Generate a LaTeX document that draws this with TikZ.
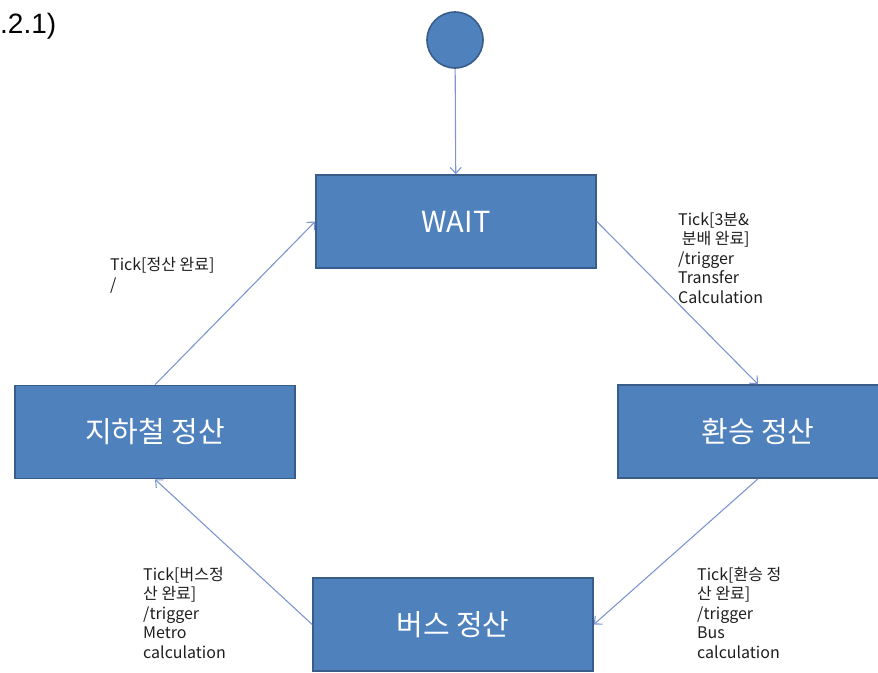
\documentclass[tikz,border=0pt]{standalone}
\usepackage{fontspec}
\setmainfont{Liberation Sans}
\newfontfamily\kr{Noto Sans CJK KR}
\usetikzlibrary{arrows.meta}
\definecolor{boxfill}{RGB}{79,129,189}
\definecolor{boxline}{RGB}{56,93,138}
\definecolor{conn}{RGB}{125,150,210}
\definecolor{lbl}{RGB}{30,30,30}
\tikzset{
  state/.style={rectangle, draw=boxline, line width=1.6pt, fill=boxfill,
    minimum width=280pt, minimum height=93pt, inner sep=0pt,
    text=white, font=\kr\fontsize{29}{34}\selectfont},
  startdot/.style={circle, draw=boxline, line width=1.6pt, fill=boxfill,
    minimum size=56pt, inner sep=0pt},
  conn/.style={draw=conn, line width=1.1pt,
    -{Straight Barb[length=6pt,width=11pt,line width=1.1pt]}},
  lab/.style={anchor=base west, inner sep=0pt, align=left, text=lbl,
    font=\kr\fontsize{16}{19.5}\selectfont}
}
\begin{document}
\begin{tikzpicture}[x=1pt,y=-1pt]
\useasboundingbox (0,0) rectangle (878,672);
\begin{scope}
\clip (0,0) rectangle (878,672);
\node[anchor=base west, inner sep=0pt, font=\fontsize{28}{34}\selectfont, text=black] (num) at (0,33) {.2.1)};
\node[startdot] (init) at (455,40) {};
\node[state] (wait) at (456,221.5) {WAIT};
\node[state] (sub) at (155,432) {지하철 정산};
\node[state] (xfer) at (758,431.5) {환승 정산};
\node[state] (bus) at (453,624.5) {버스 정산};
\draw[conn] (init) -- (wait);
\draw[conn] (sub.north) -- (wait.west);
\draw[conn] (wait.east) -- (xfer.north);
\draw[conn] (xfer.south) -- (bus.east);
\draw[conn] (bus.west) -- (sub.south);
\node[lab] (l1) at (110,290) {Tick[정산 완료]\\/};
\node[lab] (l2) at (678,303) {Tick[3분\&\\\ 분배 완료]\\/trigger\\Transfer\\Calculation};
\node[lab] (l3) at (143,658) {Tick[버스정\\산 완료]\\/trigger\\Metro\\calculation};
\node[lab] (l4) at (697,658) {Tick[환승 정\\산 완료]\\/trigger\\Bus\\calculation};
\end{scope}
\end{tikzpicture}
\end{document}
